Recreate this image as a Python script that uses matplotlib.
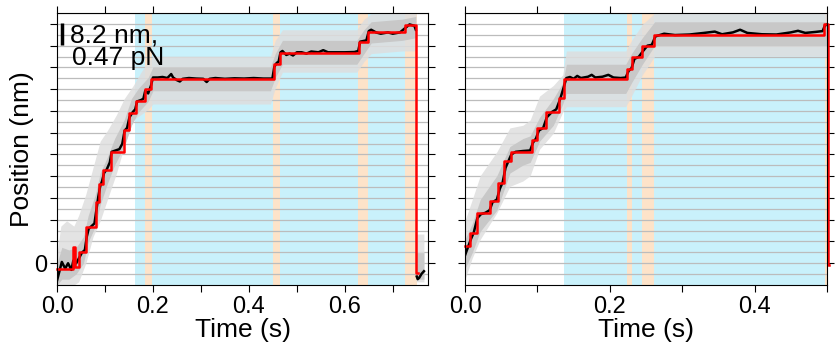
import matplotlib
matplotlib.use("Agg")
import matplotlib.pyplot as plt
import numpy as np

plt.rcParams['font.family'] = ['Liberation Sans', 'DejaVu Sans']

# ---- left trace (time in s, position in nm) ----
fit1_t = [0, 0.033, 0.038, 0.046, 0.060, 0.081, 0.0875, 0.0965, 0.112, 0.140, 0.150,
          0.164, 0.1825, 0.196, 0.452, 0.465, 0.629, 0.649, 0.725, 0.749, 0.752]
fit1_y = [-2.1, 6.0, -1.3, 4.4, 13.6, 23.2, 29.9, 35.2, 42.1, 50.2, 56.8,
          61.3, 65.6, 69.5, 75.1, 79.2, 83.2, 87.1, 89.8, -3.8, -3.8]

smooth1_t = [0.000, 0.005, 0.010, 0.017, 0.023, 0.030, 0.034, 0.040, 0.046, 0.052, 0.058,
             0.062, 0.066, 0.072, 0.078, 0.082, 0.086, 0.090, 0.094, 0.098, 0.104, 0.110,
             0.114, 0.122, 0.130, 0.136, 0.141, 0.146, 0.151, 0.158, 0.163, 0.167, 0.175,
             0.180, 0.184, 0.190, 0.196, 0.200, 0.210, 0.220, 0.230, 0.238, 0.242, 0.250,
             0.256, 0.262, 0.275, 0.290, 0.305, 0.312, 0.318, 0.330, 0.350, 0.370, 0.390,
             0.410, 0.430, 0.449, 0.453, 0.458, 0.462, 0.466, 0.470, 0.478, 0.485, 0.492,
             0.500, 0.510, 0.520, 0.530, 0.545, 0.555, 0.565, 0.580, 0.600, 0.620, 0.628,
             0.632, 0.645, 0.650, 0.655, 0.665, 0.675, 0.690, 0.700, 0.715, 0.725, 0.735,
             0.745, 0.748, 0.749, 0.750, 0.752, 0.755, 0.760, 0.765]
smooth1_y = [-6.5, -3, 0.5, -2, 0, -2.5, 1, 0, 2, 4, 5,
             10, 13, 14, 15, 20, 25, 29, 31, 34, 35.5, 38,
             42, 42.5, 43, 45, 50, 51, 55, 57, 58, 61, 61.5,
             62, 65, 64, 67, 70, 70, 70.2, 69.8, 71.3, 70, 69,
             68.5, 69.5, 69.8, 69.6, 69.5, 68.3, 69.5, 69.8, 69.5, 69.7, 69.6,
             69.8, 69.6, 69.6, 74, 75.5, 76, 79.5, 80, 78.5, 79, 78.3,
             79.5, 79.5, 79, 79.8, 79.5, 80.3, 79.5, 79.5, 79.5, 79.6, 80,
             83.5, 84, 87.5, 88, 87, 86.5, 87, 86.5, 87, 88.5, 90,
             89.5, 88, np.nan, -5, -6, -5.5, -4, -3]

# noisy raw trace: outer envelope (spikes) and dense core
raw1_t = [0.000, 0.008, 0.020, 0.035, 0.045, 0.060, 0.075, 0.090, 0.105, 0.124, 0.140,
          0.159, 0.175, 0.190, 0.200, 0.445, 0.455, 0.470, 0.625, 0.640, 0.655, 0.720,
          0.7484, 0.7486, 0.765]
raw1_lo = [-8.2, -8.2, -8.2, -8.2, -7, 0, 10, 16, 24, 34, 44,
           54, 56, 58, 60, 60, 66, 72, 72, 76, 79, 80,
           80, -7, -7]
raw1_hi = [4, 14, 16, 14, 18, 26, 36, 46, 50, 56, 62,
           67, 72, 76, 78, 78, 84, 88, 88, 92, 94, 94.3,
           94.3, 11, 11]
core1_t = [0.000, 0.010, 0.025, 0.040, 0.055, 0.065, 0.080, 0.090, 0.105, 0.120, 0.140,
           0.155, 0.170, 0.190, 0.200, 0.445, 0.455, 0.470, 0.625, 0.640, 0.655, 0.720,
           0.748, 0.7486, 0.765]
core1_lo = [-8.2, -6, -6, -4, 0, 8, 14, 22, 30, 37, 44,
            52, 57, 61, 65, 65, 70, 75, 75, 79, 83, 84,
            85, -6, -6]
core1_hi = [0, 6, 5, 6, 10, 18, 26, 34, 40, 47, 54,
            62, 66, 70, 74, 74, 79, 84, 84, 88, 91, 92,
            93, 4, 4]

blue1 = [(0.163, 0.725)]
orange1 = [(0.184, 0.197), (0.451, 0.465), (0.628, 0.649), (0.725, 0.751)]

# ---- right trace ----
fit2_t = [0, 0.007, 0.016, 0.035, 0.045, 0.054, 0.064, 0.092, 0.099, 0.112, 0.130,
          0.137, 0.224, 0.231, 0.245, 0.261, 0.4955, 0.501, 0.503]
fit2_y = [6.5, 11.3, 18.8, 23.6, 30.4, 38.7, 42.1, 46.5, 50.9, 56.9, 62.2,
          69.6, 73.1, 77.6, 82.0, 86.0, 90.0, -0.6, -0.6]

smooth2_t = [0.000, 0.004, 0.008, 0.012, 0.017, 0.022, 0.028, 0.034, 0.038, 0.044, 0.048,
             0.052, 0.056, 0.060, 0.064, 0.070, 0.080, 0.090, 0.094, 0.098, 0.102, 0.108,
             0.113, 0.120, 0.126, 0.131, 0.136, 0.140, 0.145, 0.150, 0.155, 0.160, 0.170,
             0.175, 0.180, 0.190, 0.198, 0.205, 0.215, 0.222, 0.226, 0.230, 0.234, 0.240,
             0.246, 0.252, 0.258, 0.263, 0.275, 0.290, 0.310, 0.330, 0.345, 0.355, 0.370,
             0.380, 0.390, 0.410, 0.430, 0.450, 0.460, 0.470, 0.485, 0.494, 0.497, 0.500]
smooth2_y = [3, 6, 9, 11.5, 17, 18.5, 19, 20, 23, 24, 28,
             30.5, 36, 38.5, 41, 42, 42.3, 42.5, 45.5, 47, 50, 51,
             55, 57, 58, 61.5, 66, 69.8, 70.2, 69.5, 70.6, 69.8, 70.3,
             71, 70, 70.3, 71, 70, 69.8, 70, 72.5, 73.5, 77, 77.8,
             80, 82, 82.3, 85.5, 86.5, 86, 86.2, 86.8, 87.3, 86.3, 87,
             88, 86.8, 86.3, 86.2, 87, 87.6, 86.8, 87.2, 87.5, 89.5, 90]

raw2_t = [0.000, 0.010, 0.021, 0.044, 0.062, 0.080, 0.090, 0.103, 0.122, 0.135, 0.140,
          0.222, 0.230, 0.245, 0.262, 0.500]
raw2_lo = [-6, 2, 9, 19, 29, 31, 33, 43, 49, 57, 59,
           59, 63, 71, 78, 78]
raw2_hi = [16, 24, 33, 42, 51, 52, 54, 63, 67, 71, 80,
           80, 84, 90, 94.3, 94.3]
core2_t = [0.000, 0.010, 0.021, 0.044, 0.062, 0.080, 0.090, 0.103, 0.122, 0.135, 0.140,
           0.222, 0.230, 0.245, 0.262, 0.500]
core2_lo = [-2, 4, 12, 20, 34, 37, 38, 46, 52, 60, 64,
            64, 68, 75, 82, 82]
core2_hi = [9, 15, 24, 33, 44, 47, 48, 55, 62, 68, 75,
            75, 79, 85, 91, 91]

blue2 = [(0.137, 0.497)]
orange2 = [(0.224, 0.231), (0.245, 0.261), (0.497, 0.505)]

# ---- axes settings ----
step_nm = 8.2
ytick_vals = [i * step_nm for i in range(12)]
ytick_labels = ['0'] + [''] * 11
grid_vals = [i * step_nm / 2 for i in range(-1, 24)]

xt1 = [0.0, 0.1, 0.2, 0.3, 0.4, 0.5, 0.6, 0.7]
xl1 = ['0.0', '', '0.2', '', '0.4', '', '0.6', '']
xt2 = [0.0, 0.1, 0.2, 0.3, 0.4, 0.5]
xl2 = ['0.0', '', '0.2', '', '0.4', '']

BLUE = '#c9f1fb'
ORANGE = '#fde3c9'
GRID = '#bcbcbc'
RAW_OUT = '#dedede'
RAW_IN = '#c8c8c8'

fig = plt.figure(figsize=(8.35, 3.52), dpi=100)
ax1 = fig.add_axes([0.0683, 0.1903, 0.4443, 0.7727])
ax2 = fig.add_axes([0.5569, 0.1903, 0.4335, 0.7727])


def draw(ax, fit_t, fit_y, sm_t, sm_y, raw, core, blues, oranges, xmax,
         xt, xl, ylabels):
    for a, b in blues:
        ax.axvspan(a, b, color=BLUE, lw=0, zorder=0)
    for a, b in oranges:
        ax.axvspan(a, b, color=ORANGE, lw=0, zorder=0.5)
    for g in grid_vals:
        ax.axhline(g, color=GRID, lw=0.9, zorder=1)
    ax.fill_between(raw[0], raw[1], raw[2], color=RAW_OUT, lw=0, alpha=0.85, zorder=2)
    ax.fill_between(core[0], core[1], core[2], color=RAW_IN, lw=0, zorder=2.2)
    ax.plot(sm_t, sm_y, color='black', lw=1.8, zorder=3)
    ax.step(fit_t, fit_y, where='post', color='#ff0000', lw=1.8, zorder=4,
            clip_on=False)
    ax.set_xlim(0, xmax)
    ax.set_ylim(-8.2, 94.3)
    ax.set_xticks(xt)
    ax.set_xticklabels(xl)
    ax.set_yticks(ytick_vals)
    ax.set_yticklabels(ytick_labels if ylabels else [''] * len(ytick_vals))
    ax.tick_params(axis='both', direction='out', length=5, width=0.8,
                   labelsize=17, top=True, right=True, pad=3)
    ax.tick_params(axis='y', pad=2)
    for s in ax.spines.values():
        s.set_linewidth(0.8)
        s.set_zorder(5)
    ax.set_xlabel('Time (s)', fontsize=19, labelpad=0)


draw(ax1, fit1_t, fit1_y, smooth1_t, smooth1_y, (raw1_t, raw1_lo, raw1_hi),
     (core1_t, core1_lo, core1_hi), blue1, orange1, 0.7735, xt1, xl1, True)
draw(ax2, fit2_t, fit2_y, smooth2_t, smooth2_y, (raw2_t, raw2_lo, raw2_hi),
     (core2_t, core2_lo, core2_hi), blue2, orange2, 0.4995, xt2, xl2, False)

ax1.set_ylabel('Position (nm)', fontsize=19, labelpad=0)

# scale bar
ax1.plot([0.0098, 0.0098], [82.3, 90.5], color='black', lw=2.5, zorder=6,
         solid_capstyle='butt')
ax1.text(0.027, 83.1, '8.2 nm,', fontsize=19, va='baseline', ha='left', zorder=6)
ax1.text(0.031, 74.7, '0.47 pN', fontsize=19, va='baseline', ha='left', zorder=6)

fig.savefig('out.png', dpi=100)
